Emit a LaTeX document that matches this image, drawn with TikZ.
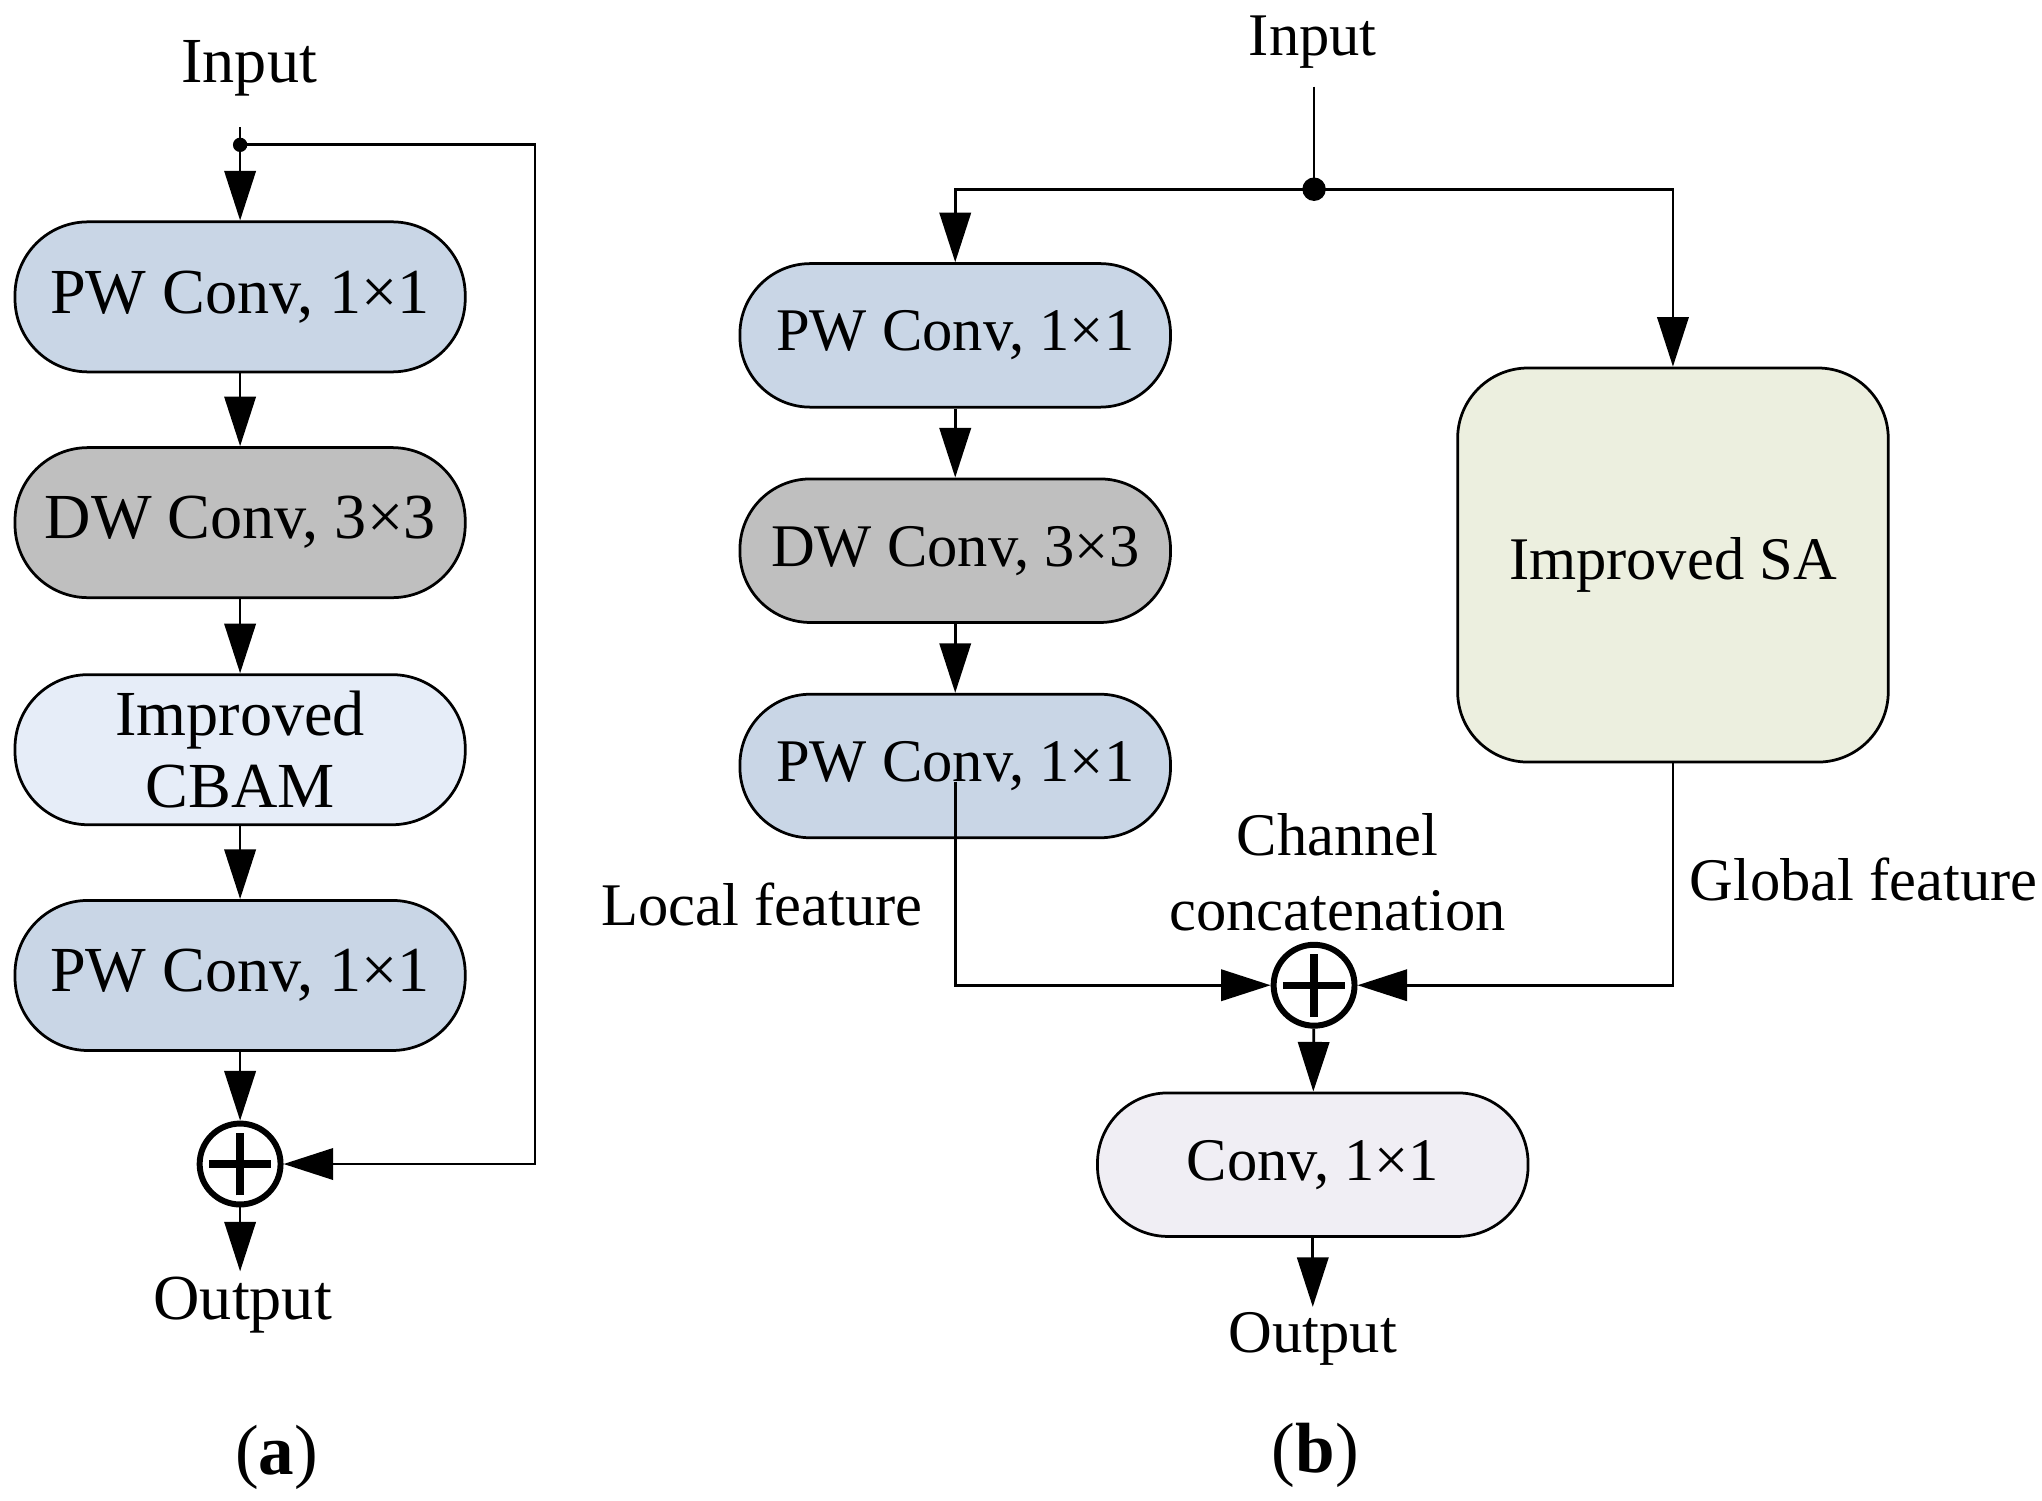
\documentclass[tikz,border=0pt]{standalone}
\usepackage{fontspec}
\setmainfont{Liberation Serif}
\usetikzlibrary{arrows.meta}
\definecolor{pwblue}{HTML}{C9D6E6}
\definecolor{dwgray}{HTML}{BFBFBF}
\definecolor{cbamblue}{HTML}{E6EDF8}
\definecolor{convgray}{HTML}{F0EEF4}
\definecolor{sagreen}{HTML}{ECEFDF}
\tikzset{
  blockA/.style={draw, line width=0.6pt, rounded corners=0.56cm, minimum width=3.45cm, minimum height=1.15cm, align=center, inner sep=0pt},
  blockB/.style={blockA, minimum width=3.3cm, minimum height=1.1cm, rounded corners=0.54cm},
  lbl/.style={inner sep=1pt},
  sublbl/.style={font=\fontsize{15.5pt}{18pt}\selectfont},
  arr/.style={-{Triangle[length=3.8mm,width=2.4mm]}, line width=0.6pt},
  sum/.style={draw, circle, line width=1.3pt, minimum size=0.62cm, inner sep=0pt,
    path picture={\draw[line width=1.6pt] ([xshift=-2.4mm]path picture bounding box.center) -- ([xshift=2.4mm]path picture bounding box.center)
      ([yshift=-2.4mm]path picture bounding box.center) -- ([yshift=2.4mm]path picture bounding box.center);}}
}
\begin{document}
\begin{tikzpicture}[font=\fontsize{13.2pt}{15.6pt}\selectfont]
\useasboundingbox (0,0) rectangle (15.648,-11.502);
% (a)
\begin{scope}[font=\fontsize{14pt}{15.6pt}\selectfont]
\node[lbl] (inA) at (1.91,-0.52) {Input};
\coordinate (dotA) at (1.84,-1.11);
\coordinate (skipA) at (4.10,-1.11);
\node[blockA, fill=pwblue] (pwA1) at (1.84,-2.275) {PW Conv, 1×1};
\node[blockA, fill=dwgray] (dwA) at (1.84,-4.005) {DW Conv, 3×3};
\node[blockA, fill=cbamblue] (cbamA) at (1.84,-5.745) {Improved\\CBAM};
\node[blockA, fill=pwblue] (pwA2) at (1.84,-7.475) {PW Conv, 1×1};
\node[sum] (addA) at (1.84,-8.92) {};
\node[lbl] (outA) at (1.86,-10.0) {Output};
\node[sublbl] (labA) at (2.12,-11.17) {(\textbf{a})};
\end{scope}
\fill (dotA) circle (0.055);
\draw[line width=0.6pt, shorten <=2mm] (inA.south -| dotA) -- (dotA);
\draw[arr] (dotA) -- (pwA1);
\draw[arr] (pwA1) -- (dwA);
\draw[arr] (dwA) -- (cbamA);
\draw[arr] (cbamA) -- (pwA2);
\draw[arr] (pwA2) -- (addA);
\draw[arr] (addA) -- (outA.north -| addA);
\draw[arr] (dotA) -- (skipA) |- (addA);
% (b)
\node[lbl] (inB) at (10.06,-0.32) {Input};
\coordinate (dotB) at (10.07,-1.45);
\node[blockB, fill=pwblue] (pwB1) at (7.32,-2.57) {PW Conv, 1×1};
\node[blockB, fill=dwgray] (dwB) at (7.32,-4.22) {DW Conv, 3×3};
\node[blockB, fill=pwblue] (pwB2) at (7.32,-5.87) {PW Conv, 1×1};
\node[blockB, fill=sagreen, minimum height=3.02cm] (saB) at (12.82,-4.33) {Improved SA};
\node[sum] (addB) at (10.07,-7.55) {};
\node[blockB, fill=convgray] (convB) at (10.06,-8.925) {Conv, 1×1};
\node[lbl] (outB) at (10.06,-10.26) {Output};
\node[sublbl] (labB) at (10.08,-11.15) {(\textbf{b})};
\node (localB) at (5.84,-6.93) {Local feature};
\node[align=center, font=\fontsize{13.2pt}{16.2pt}\selectfont] (catB) at (10.25,-6.685) {Channel\\concatenation};
\node (globalB) at (14.28,-6.74) {Global feature};
\fill (dotB) circle (0.09);
\draw[line width=0.6pt, shorten <=1mm] (inB.south -| dotB) -- (dotB);
\draw[arr] (dotB) -| (pwB1);
\draw[arr] (dotB) -| (saB);
\draw[arr] (pwB1) -- (dwB);
\draw[arr] (dwB) -- (pwB2);
\draw[arr] ([yshift=-1.2mm]pwB2.center) |- (addB);
\draw[arr] (saB) |- (addB);
\draw[arr] (addB) -- (convB);
\draw[arr] (convB) -- (outB);
\end{tikzpicture}
\end{document}
